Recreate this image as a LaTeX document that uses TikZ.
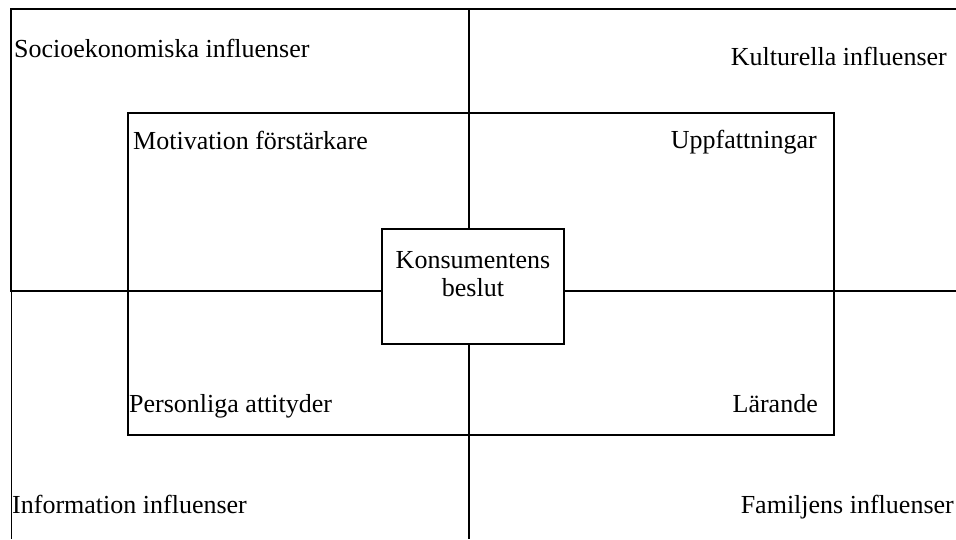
\documentclass[tikz,border=0pt]{standalone}
\usepackage{fontspec}
\setmainfont{Liberation Serif}
\usepackage{tikz}

\begin{document}
\begin{tikzpicture}[
    x=1pt, y=-1pt,
    txt/.style={inner sep=0pt, font=\fontsize{26}{27.5}\selectfont},
    ruta/.style={draw=black, line width=1.2pt}
]

\useasboundingbox (0,0) rectangle (956,539);

% Ram
\draw[
    line width=2.4pt
] (956,9) -- (11,9) -- (11,291);
\draw[
    line width=1pt
] (11,291) -- (11,539);

% Kors
\draw[
    line width=1.8pt
] (10,291) -- (956,291);
\draw[
    line width=1.4pt
] (469,9) -- (469,539);

% Inre ruta
\draw[ruta] (128,113) rectangle (834,435);

% Mitten
\node[
    ruta,
    fill=white,
    minimum width=182pt,
    minimum height=115pt
] (beslut) at (473,286.5) {};
\node[txt, align=center, anchor=base] (beslutText) at (473,296) {Konsumentens\\beslut};

% Influenser
\node[txt, anchor=base west] (socio) at (14,57) {Socioekonomiska influenser};
\node[txt, anchor=base east] (kultur) at (947,65) {Kulturella influenser};
\node[txt, anchor=base west] (info) at (12,513) {Information influenser};
\node[txt, anchor=base east] (familj) at (954,513) {Familjens influenser};

% Inre faktorer
\node[txt, anchor=base west] (motiv) at (133,149) {Motivation förstärkare};
\node[txt, anchor=base east] (uppf) at (817,148) {Uppfattningar};
\node[txt, anchor=base west] (pers) at (129,412) {Personliga attityder};
\node[txt, anchor=base east] (larande) at (818,412) {Lärande};

\end{tikzpicture}
\end{document}
